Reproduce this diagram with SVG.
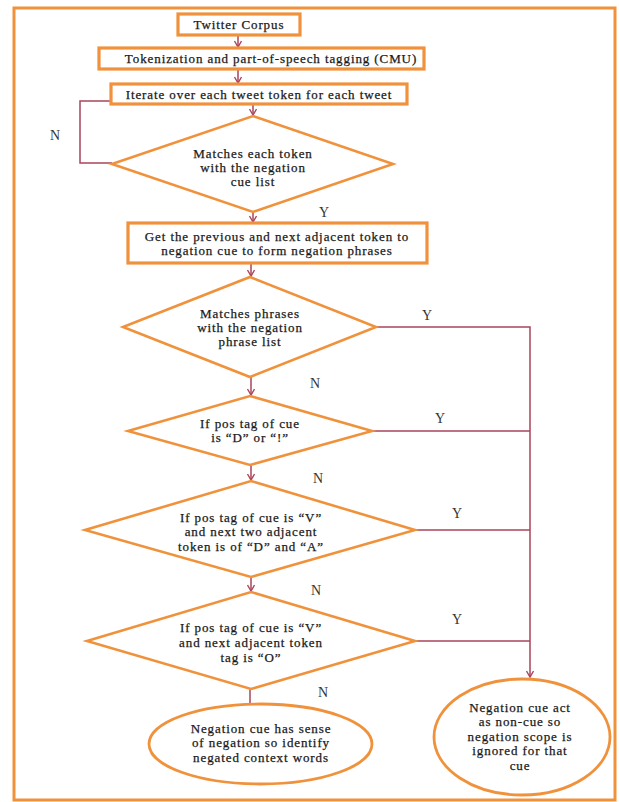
<svg xmlns="http://www.w3.org/2000/svg" width="619" height="802" viewBox="0 0 619 802">
<defs>
<marker id="arr" markerWidth="10" markerHeight="10" refX="7" refY="4" orient="auto" markerUnits="userSpaceOnUse">
<path d="M1,0.5 L7,4 L1,7.5" fill="none" stroke="#A8455C" stroke-width="1.4"/>
</marker>
<style>
.frame{fill:#fff;stroke:#F0923C;stroke-width:3}
.box{fill:#fff;stroke:#F0923C;stroke-width:3.2}
.dia{fill:#fff;stroke:#F0923C;stroke-width:2.6;stroke-linejoin:miter}
.ell{fill:#fff;stroke:#F0923C;stroke-width:2.8}
.t{font-family:"Liberation Serif","Times New Roman",serif;font-size:13px;fill:#1a1a1a;stroke:#1a1a1a;stroke-width:0.25;text-anchor:middle;letter-spacing:0.9px}
.lbl{font-family:"Liberation Serif","Times New Roman",serif;font-size:14px;fill:#333;text-anchor:middle}
.c{fill:none;stroke:#A8455C;stroke-width:1.5}
.ca{fill:none;stroke:#A8455C;stroke-width:1.5;marker-end:url(#arr)}
</style>
</defs>
<rect class="frame" x="14" y="8" width="601" height="792"/>
<g id="connectors">
<line class="ca" x1="238" y1="35" x2="238" y2="47"/>
<line class="ca" x1="238" y1="69" x2="238" y2="83"/>
<line class="ca" x1="253" y1="104" x2="253" y2="115"/>
<polyline class="c" points="112,163 80,163 80,101 111,101"/>
<line class="ca" x1="253" y1="212" x2="253" y2="222"/>
<line class="ca" x1="251" y1="263" x2="251" y2="276"/>
<line class="ca" x1="251" y1="377" x2="251" y2="395"/>
<line class="ca" x1="251" y1="465" x2="251" y2="480"/>
<line class="ca" x1="251" y1="577" x2="251" y2="591"/>
<line class="c" x1="250" y1="689" x2="250" y2="704"/>
<polyline class="ca" points="376,327 530,327 530,677"/>
<line class="c" x1="372" y1="431" x2="530" y2="431"/>
<line class="c" x1="415" y1="530" x2="530" y2="530"/>
<line class="c" x1="415" y1="641" x2="530" y2="641"/>
<text class="lbl" x="55" y="140">N</text>
<text class="lbl" x="324" y="217">Y</text>
<text class="lbl" x="427" y="320">Y</text>
<text class="lbl" x="315" y="388">N</text>
<text class="lbl" x="440" y="423">Y</text>
<text class="lbl" x="318" y="483">N</text>
<text class="lbl" x="457" y="518">Y</text>
<text class="lbl" x="316" y="595">N</text>
<text class="lbl" x="457" y="624">Y</text>
<text class="lbl" x="323" y="697">N</text>
</g>
<g id="twitter">
<rect class="box" x="178" y="14" width="122" height="21"/>
<text class="t" x="239" y="29">Twitter Corpus</text>
</g>
<g id="tokenization">
<rect class="box" x="99" y="48" width="325" height="21"/>
<text class="t" x="271" y="63">Tokenization and part-of-speech tagging (CMU)</text>
</g>
<g id="iterate">
<rect class="box" x="111" y="84" width="296" height="20"/>
<text class="t" x="259" y="98.5">Iterate over each tweet token for each tweet</text>
</g>
<g id="match-cue">
<polygon class="dia" points="253,116 393,164 253,212 112,164"/>
<text class="t" x="253" y="158">Matches each token</text>
<text class="t" x="253" y="172">with the negation</text>
<text class="t" x="253" y="186">cue list</text>
</g>
<g id="get-adjacent">
<rect class="box" x="128" y="223" width="299" height="40"/>
<text class="t" x="277" y="240.5">Get the previous and next adjacent token to</text>
<text class="t" x="277" y="254.5">negation cue to form negation phrases</text>
</g>
<g id="match-phrase">
<polygon class="dia" points="250,277 376,327 250,377 123,327"/>
<text class="t" x="250" y="318">Matches phrases</text>
<text class="t" x="250" y="332">with the negation</text>
<text class="t" x="250" y="346">phrase list</text>
</g>
<g id="pos-d">
<polygon class="dia" points="250,396 372,431 250,465 128,431"/>
<text class="t" x="250" y="428">If pos tag of cue</text>
<text class="t" x="250" y="442">is “D” or “!”</text>
</g>
<g id="pos-v-da">
<polygon class="dia" points="251,481 415,530 251,577 85,530"/>
<text class="t" x="251" y="521.5">If pos tag of cue is “V”</text>
<text class="t" x="251" y="536">and next two adjacent</text>
<text class="t" x="251" y="550.5">token is of “D” and “A”</text>
</g>
<g id="pos-v-o">
<polygon class="dia" points="251,592 415,641 251,689 87,641"/>
<text class="t" x="251" y="631.5">If pos tag of cue is “V”</text>
<text class="t" x="251" y="646.5">and next adjacent token</text>
<text class="t" x="251" y="661.5">tag is “O”</text>
</g>
<g id="negated">
<ellipse class="ell" cx="260.5" cy="744" rx="111.5" ry="40"/>
<text class="t" x="261" y="732.5">Negation cue has sense</text>
<text class="t" x="261" y="746.5">of negation so identify</text>
<text class="t" x="261" y="761.5">negated context words</text>
</g>
<g id="non-cue">
<ellipse class="ell" cx="522" cy="737" rx="88" ry="58"/>
<text class="t" x="520" y="711.5">Negation cue act</text>
<text class="t" x="520" y="725.5">as non-cue so</text>
<text class="t" x="520" y="740.5">negation scope is</text>
<text class="t" x="520" y="754.5">ignored for that</text>
<text class="t" x="520" y="769.5">cue</text>
</g>
</svg>
